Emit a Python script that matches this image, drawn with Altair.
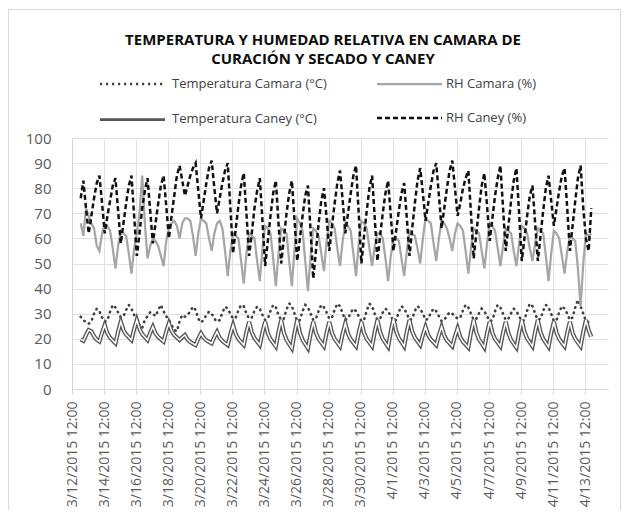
import altair as alt
import pandas as pd

# ---- data: 4-hourly readings from 2015-03-13 01:00 to 2015-04-13 21:00 (rows = days) ----
start = "2015-03-13 01:00"

temp_camara = [
    28.8, 27.5, 26.5, 26.0, 27.0, 30.0,
    32.0, 31.0, 28.5, 26.8, 27.5, 30.8,
    33.5, 32.5, 30.5, 28.5, 29.0, 31.5,
    33.5, 32.0, 29.5, 27.0, 25.5, 24.3,
    27.5, 29.0, 30.6, 30.0, 29.0, 31.5,
    33.5, 31.0, 29.0, 27.5, 25.5, 23.5,
    23.0, 27.0, 29.5, 28.8, 29.5, 31.0,
    32.8, 31.5, 28.0, 26.5, 27.5, 29.5,
    30.8, 30.0, 28.0, 26.8, 27.5, 30.4,
    32.8, 32.0, 30.0, 28.0, 28.5, 31.3,
    33.5, 33.0, 30.0, 28.0, 28.5, 31.1,
    32.8, 32.0, 29.5, 27.5, 28.0, 31.1,
    33.5, 32.5, 29.5, 27.5, 28.0, 31.7,
    34.1, 33.0, 30.0, 27.0, 27.5, 31.0,
    33.5, 32.5, 30.0, 27.5, 28.0, 31.1,
    33.5, 32.5, 30.5, 28.0, 28.5, 31.6,
    34.0, 33.0, 30.0, 27.5, 28.0, 30.4,
    32.0, 31.0, 29.0, 27.0, 27.5, 31.2,
    34.0, 33.0, 30.0, 27.5, 28.0, 30.5,
    32.0, 31.0, 29.0, 27.0, 27.5, 30.6,
    33.0, 32.0, 30.0, 27.5, 28.0, 31.1,
    33.0, 32.0, 30.0, 27.5, 28.0, 30.5,
    32.0, 31.0, 29.0, 27.0, 27.5, 29.2,
    30.6, 30.0, 29.0, 28.0, 28.5, 31.3,
    33.5, 32.5, 30.0, 27.5, 28.0, 30.2,
    32.0, 31.0, 29.0, 27.0, 27.5, 31.0,
    33.5, 32.5, 30.0, 27.5, 28.0, 30.2,
    32.0, 31.0, 29.0, 27.0, 27.5, 31.2,
    34.0, 33.0, 30.0, 27.5, 28.0, 31.1,
    33.5, 32.5, 30.0, 27.0, 27.5, 30.6,
    33.0, 32.0, 30.0, 27.5, 28.5, 32.5,
    35.5, 33.0, 30.0, 27.0, 26.5, 27.0,
]

rh_camara = [
    66, 61, 72, 69, 66, 64,
    57, 55, 62, 66, 65, 63,
    56, 48, 57, 63, 62, 61,
    54, 46, 56, 62, 70, 85,
    66, 52, 57, 60, 59, 57,
    53, 49, 59, 64, 66, 67,
    65, 60, 66, 68, 68, 67,
    61, 53, 62, 68, 67, 66,
    60, 55, 62, 66, 67, 64,
    55, 45, 55, 62, 61, 60,
    51, 42, 54, 62, 61, 60,
    51, 43, 56, 65, 64, 62,
    52, 41, 54, 64, 63, 62,
    51, 41, 56, 68, 66, 63,
    51, 39, 53, 64, 63, 61,
    54, 47, 59, 67, 66, 64,
    56, 49, 59, 66, 65, 63,
    54, 45, 58, 67, 66, 64,
    56, 49, 57, 62, 62, 60,
    52, 43, 53, 60, 60, 59,
    52, 45, 55, 63, 62, 61,
    56, 50, 60, 68, 67, 66,
    58, 51, 60, 67, 66, 64,
    60, 55, 62, 66, 65, 63,
    55, 46, 56, 64, 63, 62,
    55, 48, 58, 66, 65, 63,
    56, 49, 57, 64, 63, 62,
    55, 49, 58, 65, 64, 62,
    56, 51, 58, 64, 63, 62,
    53, 43, 54, 63, 62, 60,
    53, 46, 55, 61, 60, 59,
    48, 33, 50, 62, 61, 62,
]

temp_caney = [
    19.8, 19.2, 21.5, 23.5, 23.0, 21.0,
    19.6, 18.9, 22.5, 25.5, 22.2, 20.4,
    19.3, 18.2, 22.9, 26.8, 23.5, 21.7,
    20.6, 19.5, 23.9, 27.5, 23.9, 21.9,
    20.7, 19.5, 22.4, 24.8, 22.1, 20.7,
    19.8, 18.9, 22.9, 26.2, 23.2, 21.5,
    20.5, 19.5, 20.6, 21.5, 19.7, 18.7,
    18.1, 17.5, 20.1, 22.2, 20.4, 19.4,
    18.8, 18.2, 20.7, 22.8, 20.4, 19.1,
    18.3, 17.5, 21.9, 25.5, 21.9, 19.9,
    18.7, 17.5, 22.6, 26.8, 22.6, 20.3,
    18.9, 17.5, 22.6, 26.8, 22.3, 19.9,
    18.4, 16.9, 22.7, 27.5, 22.4, 19.6,
    17.9, 16.2, 22.4, 27.5, 22.4, 19.6,
    17.9, 16.2, 22.0, 26.8, 22.4, 19.9,
    18.5, 17.0, 22.4, 26.8, 22.4, 19.9,
    18.5, 17.0, 22.1, 26.2, 22.1, 19.8,
    18.4, 17.0, 22.4, 26.8, 22.4, 19.9,
    18.5, 17.0, 22.8, 27.5, 22.7, 20.0,
    18.4, 16.8, 23.0, 28.0, 23.0, 20.3,
    18.7, 17.0, 22.8, 27.5, 23.0, 20.5,
    19.0, 17.5, 21.5, 24.8, 21.5, 19.7,
    18.6, 17.5, 21.5, 24.8, 21.3, 19.3,
    18.2, 17.0, 21.0, 24.2, 20.7, 18.8,
    17.7, 16.5, 22.6, 27.5, 22.5, 19.8,
    18.2, 16.5, 22.2, 26.8, 22.4, 19.9,
    18.5, 17.0, 22.4, 26.8, 22.2, 19.6,
    18.0, 16.5, 22.5, 27.5, 22.8, 20.1,
    18.6, 17.0, 22.8, 27.5, 22.7, 20.0,
    18.4, 16.8, 22.3, 26.8, 22.4, 19.9,
    18.4, 17.0, 22.4, 26.8, 22.4, 19.9,
    18.5, 17.0, 22.8, 27.5, 23.5, 20.8,
]

rh_caney = [
    76, 83, 72, 62, 69, 76,
    82, 85, 74, 62, 69, 75,
    81, 84, 71, 58, 66, 74,
    81, 85, 69, 53, 62, 72,
    79, 84, 71, 58, 66, 74,
    81, 85, 73, 60, 69, 77,
    85, 89, 83, 77, 81, 85,
    88, 90, 79, 68, 75, 82,
    88, 91, 80, 70, 76, 82,
    87, 90, 72, 54, 64, 73,
    81, 86, 70, 53, 62, 72,
    79, 84, 67, 49, 59, 69,
    78, 83, 66, 50, 60, 70,
    78, 83, 67, 51, 60, 69,
    77, 81, 63, 44, 55, 66,
    75, 80, 68, 55, 65, 74,
    82, 87, 75, 62, 70, 78,
    85, 89, 70, 50, 61, 71,
    80, 85, 68, 51, 61, 70,
    78, 83, 69, 55, 63, 71,
    78, 82, 68, 53, 64, 74,
    83, 88, 78, 67, 74, 81,
    87, 90, 77, 64, 72, 80,
    87, 91, 80, 69, 74, 80,
    84, 87, 70, 52, 62, 72,
    81, 86, 73, 59, 68, 77,
    84, 89, 72, 55, 65, 75,
    83, 88, 70, 51, 60, 69,
    77, 81, 66, 51, 61, 71,
    80, 85, 75, 65, 72, 79,
    85, 88, 72, 55, 65, 75,
    84, 89, 72, 60, 55, 72,
]

names = ["Temperatura Camara (°C)", "RH Camara (%)", "Temperatura Caney (°C)", "RH Caney (%)"]
series = [temp_camara, rh_camara, temp_caney, rh_caney]

title_lines = ["TEMPERATURA Y HUMEDAD RELATIVA EN CAMARA DE", "CURACIÓN Y SECADO Y CANEY"]
tick_start = "2015-03-12 12:00"
tick_count = 17
y_ticks = [0, 10, 20, 30, 40, 50, 60, 70, 80, 90, 100]

# ---- build table ----
times = pd.date_range(start, periods=len(rh_caney), freq="4h")
rows = []
for name, vals in zip(names, series):
    for t, v in zip(times, vals):
        rows.append({"t": t.strftime("%Y-%m-%dT%H:%M:%S"), "v": v, "s": name})
df = pd.DataFrame(rows)


def dt(ts):
    return alt.DateTime(year=ts.year, month=ts.month, date=ts.day, hours=ts.hour, minutes=ts.minute)


tick_vals = [dt(t) for t in pd.date_range(tick_start, periods=tick_count, freq="2D")]
x_domain = [dt(pd.Timestamp("2015-03-12 12:00")), dt(pd.Timestamp("2015-04-14 22:00"))]

FONT = "Open Sans"
GRID = "#dde1e8"

x_axis = alt.Axis(
    values=tick_vals, format="%-m/%-d/%Y %H:%M", labelAngle=270, labelFont=FONT,
    labelFontSize=14, labelColor="#595959", labelPadding=7, tickSize=5, tickColor="#d9d9d9",
    domainColor="#d9d9d9", grid=True, gridColor=GRID, labelOverlap=False, labelFlush=False,
    title=None,
)
y_axis = alt.Axis(
    values=y_ticks, labelFont=FONT, labelFontSize=15, labelColor="#595959", labelPadding=21,
    tickSize=0, domainColor="#d0d6e0", grid=True, gridColor=GRID, labelFlush=False, title=None,
)

base = alt.Chart(df).encode(
    x=alt.X("t:T", scale=alt.Scale(domain=x_domain), axis=x_axis),
    y=alt.Y("v:Q", scale=alt.Scale(domain=[0, 100], nice=False), axis=y_axis),
)


def legend(lx, ly, sw, lo, dash=None, label_opacity=None):
    kw = dict(
        title=None, orient="none", legendX=lx, legendY=ly, symbolType="M-1,0L9,0",
        symbolSize=169, symbolStrokeWidth=sw, labelFont=FONT, labelFontSize=13,
        labelColor="#404040", labelOffset=lo, padding=0,
    )
    if dash is not None:
        kw["symbolDash"] = dash
    if label_opacity is not None:
        kw["labelOpacity"] = label_opacity
    return alt.Legend(**kw)


def layer(name, color, lg, **mark):
    return base.transform_filter(alt.datum.s == name).mark_line(**mark).encode(
        color=alt.Color("s:N", scale=alt.Scale(domain=[name], range=[color]), legend=lg)
    )


l_tcam = layer(names[0], "#404040", legend(26.5, -62, 2.5, 57.5, dash=[2.2, 3.8]),
               strokeWidth=2.6, strokeDash=[0.5, 5], strokeCap="round")
l_rhcam = layer(names[1], "#a6a6a6", legend(303.5, -62, 2.25, 54.5),
                strokeWidth=2.25)
l_tcan = layer(names[2], "#555555", legend(25.5, -28, 4.2, 56.5),
               strokeWidth=4.2)
l_tcan_in = layer(names[2], "#ffffff", legend(27, -28, 1.5, 57.5, label_opacity=0),
                  strokeWidth=1.5)
l_rhcan = layer(names[3], "#111111", legend(303.5, -28, 2.5, 54.5, dash=[5, 3]),
                strokeWidth=2.5, strokeDash=[5, 3])

frame = alt.Chart(alt.Data(values=[{}])).mark_rect(
    fill="transparent", stroke="#d9d9d9", strokeWidth=1
).encode(x=alt.value(-63.5), x2=alt.value(548.5), y=alt.value(-128.5), y2=alt.value(400))

chart = alt.layer(frame, l_tcam, l_rhcam, l_tcan, l_tcan_in, l_rhcan).resolve_scale(
    color="independent"
).resolve_legend(color="independent").properties(
    width=536, height=251,
    autosize=alt.AutoSizeParams(type="none"),
    padding={"left": 64, "top": 130, "right": 13, "bottom": 121},
    title=alt.TitleParams(
        text=title_lines, font=FONT, fontSize=15, fontWeight="bold", color="#0d0d0d",
        anchor="middle", frame="group", dx=-17, dy=66, offset=8, lineHeight=19,
    ),
    background="white",
).configure_view(strokeWidth=0)

chart.save("out.html", embed_options={"renderer": "svg", "actions": False})
